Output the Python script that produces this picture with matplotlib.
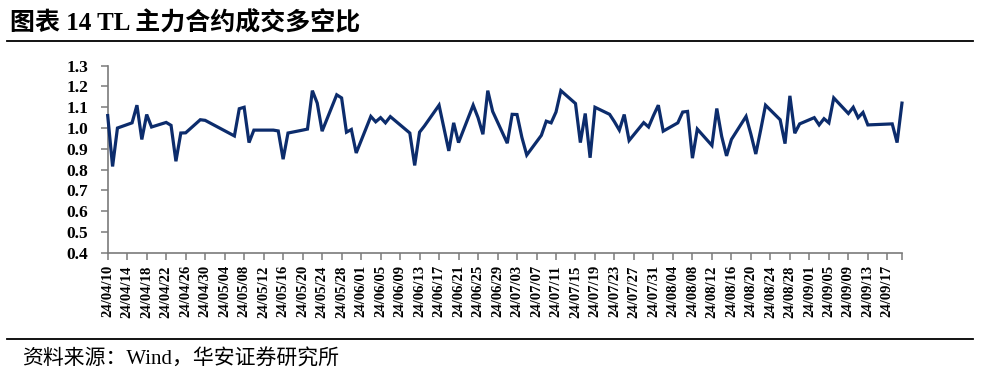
import matplotlib
matplotlib.use("Agg")
import matplotlib.pyplot as plt
import matplotlib.dates as mdates
import numpy as np
import pandas as pd

# trading days (2024) and the long/short volume ratio
dates = [
    "04-10", "04-11", "04-12", "04-15", "04-16", "04-17", "04-18", "04-19",
    "04-22", "04-23", "04-24", "04-25", "04-26", "04-29", "04-30",
    "05-06", "05-07", "05-08", "05-09", "05-10", "05-13", "05-14", "05-15",
    "05-16", "05-17", "05-20", "05-21", "05-22", "05-23", "05-24", "05-27",
    "05-28", "05-29", "05-30", "05-31",
    "06-03", "06-04", "06-05", "06-06", "06-07", "06-11", "06-12", "06-13",
    "06-14", "06-17", "06-18", "06-19", "06-20", "06-21", "06-24", "06-25",
    "06-26", "06-27", "06-28",
    "07-01", "07-02", "07-03", "07-04", "07-05", "07-08", "07-09", "07-10",
    "07-11", "07-12", "07-15", "07-16", "07-17", "07-18", "07-19", "07-22",
    "07-23", "07-24", "07-25", "07-26", "07-29", "07-30", "07-31",
    "08-01", "08-02", "08-05", "08-06", "08-07", "08-08", "08-09", "08-12",
    "08-13", "08-14", "08-15", "08-16", "08-19", "08-20", "08-21", "08-22",
    "08-23", "08-26", "08-27", "08-28", "08-29", "08-30",
    "09-02", "09-03", "09-04", "09-05", "09-06", "09-09", "09-10", "09-11",
    "09-12", "09-13", "09-18", "09-19", "09-20",
]
ratio = [
    1.06, 0.815, 1.00, 1.025, 1.11, 0.945, 1.065, 1.005,
    1.027, 1.013, 0.84, 0.976, 0.977, 1.04, 1.037,
    0.962, 1.093, 1.10, 0.93, 0.99, 0.99, 0.99, 0.986,
    0.85, 0.976, 0.99, 0.995, 1.18, 1.12, 0.985, 1.16,
    1.145, 0.98, 0.993, 0.88,
    1.056, 1.03, 1.05, 1.025, 1.055, 0.976, 0.82, 0.98,
    1.01, 1.11, 1.0, 0.89, 1.025, 0.93, 1.11, 1.05,
    0.97, 1.18, 1.08,
    0.927, 1.066, 1.065, 0.955, 0.87, 0.965, 1.033, 1.025,
    1.077, 1.18, 1.118, 0.93, 1.07, 0.857, 1.10, 1.066,
    1.03, 0.99, 1.065, 0.94, 1.026, 1.005, 1.06,
    1.11, 0.985, 1.025, 1.077, 1.08, 0.855, 0.995, 0.916,
    1.094, 0.96, 0.866, 0.945, 1.056, 0.97, 0.875, 0.99,
    1.11, 1.04, 0.925, 1.155, 0.975, 1.02,
    1.05, 1.015, 1.045, 1.025, 1.145, 1.07, 1.10, 1.05,
    1.075, 1.015, 1.02, 0.93, 1.12,
]
title = "图表 14 TL 主力合约成交多空比"
source = "资料来源：Wind，华安证券研究所"

x = pd.to_datetime(["2024-" + d for d in dates])
ticks = pd.date_range("2024-04-10", "2024-09-17", freq="4D")

fonts = ["Liberation Serif", "Noto Sans CJK SC"]
plt.rcParams["font.family"] = fonts

fig = plt.figure(figsize=(9.89, 3.79), dpi=100)
ax = fig.add_axes([0.1089, 0.3333, 0.8031, 0.4933])

ax.plot(x, ratio, color="#0c2c6c", lw=2.3, solid_joinstyle="miter",
        clip_on=False, zorder=3)

ax.set_ylim(0.4, 1.3)
ax.set_yticks(np.arange(0.4, 1.31, 0.1))
ax.yaxis.set_major_formatter(plt.FormatStrFormatter("%.1f"))
ax.set_xlim(pd.Timestamp("2024-04-10"), pd.Timestamp("2024-09-20"))
ax.set_xticks(ticks)
ax.xaxis.set_major_formatter(mdates.DateFormatter("%y/%m/%d"))
ax.set_xticks([pd.Timestamp("2024-09-20")], minor=True)

for s in ["top", "right"]:
    ax.spines[s].set_visible(False)
for s in ["left", "bottom"]:
    ax.spines[s].set_color("#7a7a7a")
    ax.spines[s].set_linewidth(1.2)

ax.tick_params(axis="y", length=5, width=1.1, color="#7a7a7a", pad=9,
               labelsize=12.5)
ax.tick_params(axis="x", which="both", length=5, width=1.1, color="#7a7a7a",
               pad=4, labelsize=10.5, labelrotation=90)
for lab in ax.get_xticklabels() + ax.get_yticklabels():
    lab.set_fontweight("bold")

# header and footer
fig.text(10 / 989, 1 - 23 / 379, title, fontsize=18, fontweight="bold",
         va="center", ha="left")
fig.add_artist(plt.Line2D([7 / 989, 973 / 989], [1 - 41 / 379, 1 - 41 / 379],
                          color="black", lw=1.3))
fig.add_artist(plt.Line2D([7 / 989, 973 / 989], [1 - 339 / 379, 1 - 339 / 379],
                          color="black", lw=1.3))
fig.text(22 / 989, 1 - 360 / 379, source, fontsize=15, va="center", ha="left")

fig.savefig("out.png", dpi=100)
